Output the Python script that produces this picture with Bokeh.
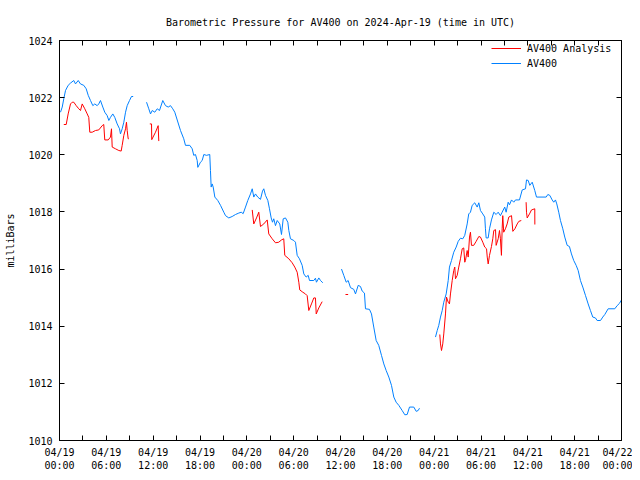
from bokeh.plotting import figure
from bokeh.models import Range1d, FixedTicker, LinearAxis, Legend
from bokeh.embed import file_html
from bokeh.resources import INLINE

nan = float("nan")

# hours since 2024-04-19 00:00 UTC
blue_hours = [0.13, 0.35, 0.55, 0.77, 1.11, 1.41, 1.83, 2.05, 2.40, 2.69, 3.11, 3.42, 3.68, 3.97,
              4.27, 4.52, 4.83, 5.03, 5.25, 5.55, 5.80, 6.11, 6.32, 6.53, 6.83, 7.08, 7.39, 7.69,
              7.81, 8.03, 8.24, 8.46, 8.67, 8.97, 9.22, 9.44, nan,
              11.15, 11.44, 11.66, 11.88, 12.21, 12.52, 12.81, 13.23, 13.58, 13.93, 14.22, 14.51,
              14.77, 15.50, 15.92, 16.14, 16.69, 17.00, 17.20, 17.42, 17.64, 17.72, 18.06, 18.28,
              18.49, 18.83, 19.25, 19.34, 19.43, 19.56, 19.69, 19.90, 20.28, 20.63, 21.05, 21.27,
              21.69, 22.12, 22.55, 22.97, 23.28, 23.53, 23.83, 24.12, 24.47, 24.69, 24.89, 25.11,
              25.40, 25.75, 26.01, 26.17, 26.39, 26.69, 26.90, 27.12, 27.29, 27.45, 27.67, 27.89,
              28.22, 28.44, 28.66, 28.95, 29.25, 29.38, 29.59, 30.02, 30.23, 30.45, 30.74, 31.09,
              31.30, 31.60, 31.86, 32.03, 32.58, 32.79, 32.92, 33.22, 33.44, 33.73, nan,
              36.13, 36.42, 36.73, 36.98, 37.28, 37.70, 37.92, 38.27, 38.56, 38.78, 39.07, 39.20,
              39.71, 39.97, 40.26, 40.57, 40.90, 41.25, 41.55, 41.85, 42.19, 42.53, 42.83, 43.13,
              43.47, 43.90, 44.24, 44.54, 44.84, 45.39, 45.70, 45.95, 46.12, nan,
              48.17, 48.39, 48.59, 48.81, 49.03, 49.23, 49.54, 49.80, 49.96, 50.22, 50.51, 50.82,
              51.08, 51.37, 51.67, 51.92, 52.23, 52.43, 52.65, 52.87, 53.20, 53.51, 53.72, 53.93,
              54.23, 54.48, 54.57, 54.66, 54.92, 55.09, 55.34, 55.64, 55.94, 56.20, 56.49, 56.71,
              57.04, 57.22, 57.48, 57.65, 57.91, 58.20, 58.42, 58.93, 59.28, 59.70, 59.83, 60.05,
              60.25, 60.56, 60.89, 61.11, 62.35, 62.56, 62.81, 63.12, 63.32, 63.54, 63.71, 63.96,
              64.18, 64.48, 64.73, 65.04, 65.33, 65.59, 65.88, 66.19, 66.45, 66.74, 67.04, 67.38,
              67.73, 68.02, 68.32, 68.66, 68.88, 69.31, 69.60, 69.86, 70.29, 71.14, 71.44, 71.74,
              72.0]
blue_mbar = [1021.49, 1021.67, 1021.96, 1022.25, 1022.43, 1022.51, 1022.60, 1022.48, 1022.60,
             1022.48, 1022.43, 1022.31, 1022.08, 1021.90, 1021.72, 1021.78, 1021.72, 1021.78,
             1021.90, 1021.67, 1021.49, 1021.37, 1021.20, 1021.31, 1021.43, 1021.31, 1021.08,
             1020.91, 1020.73, 1020.91, 1021.14, 1021.49, 1021.72, 1021.90, 1022.04, 1022.04, nan,
             1021.84, 1021.61, 1021.43, 1021.55, 1021.49, 1021.61, 1021.55, 1021.90, 1021.72,
             1021.67, 1021.72, 1021.61, 1021.49, 1020.85, 1020.56, 1020.33, 1020.33, 1020.21,
             1019.98, 1020.01, 1019.80, 1019.56, 1019.74, 1019.80, 1020.01, 1019.98, 1020.01,
             1019.45, 1018.87, 1018.98, 1018.87, 1018.52, 1018.40, 1018.23, 1017.99, 1017.87,
             1017.79, 1017.84, 1017.91, 1017.96, 1017.99, 1017.94, 1018.17, 1018.40, 1018.63,
             1018.81, 1018.52, 1018.63, 1018.52, 1018.44, 1018.73, 1018.81, 1018.58, 1018.40,
             1018.11, 1017.79, 1017.64, 1017.76, 1017.52, 1017.70, 1017.58, 1017.21, 1017.76,
             1017.79, 1017.64, 1017.35, 1017.06, 1017.00, 1016.94, 1016.48, 1016.36, 1016.13,
             1015.83, 1015.72, 1015.78, 1015.60, 1015.60, 1015.68, 1015.54, 1015.69, 1015.60,
             1015.52, nan,
             1016.00, 1015.78, 1015.54, 1015.60, 1015.35, 1015.29, 1015.13, 1015.43, 1015.39,
             1015.23, 1015.16, 1014.61, 1014.59, 1014.43, 1013.97, 1013.50, 1013.33, 1012.98,
             1012.68, 1012.45, 1012.22, 1011.93, 1011.52, 1011.34, 1011.23, 1011.05, 1010.90,
             1010.91, 1011.17, 1011.17, 1011.02, 1011.05, 1011.13, nan,
             1013.62, 1013.85, 1014.03, 1014.32, 1014.55, 1014.84, 1015.13, 1015.60, 1016.07,
             1016.30, 1016.59, 1016.77, 1016.97, 1017.08, 1017.06, 1017.18, 1017.58, 1017.93,
             1017.99, 1018.23, 1018.32, 1018.17, 1018.32, 1018.05, 1017.93, 1017.82, 1017.41,
             1017.09, 1017.09, 1017.41, 1017.72, 1017.99, 1017.91, 1017.99, 1017.87, 1017.99,
             1018.17, 1017.99, 1018.34, 1018.25, 1018.42, 1018.34, 1018.42, 1018.42, 1018.77,
             1018.81, 1019.12, 1019.10, 1018.93, 1019.04, 1018.75, 1018.52, 1018.52, 1018.61,
             1018.58, 1018.42, 1018.34, 1018.42, 1018.28, 1017.99, 1017.70, 1017.41, 1017.12,
             1016.83, 1016.79, 1016.53, 1016.30, 1016.13, 1015.95, 1015.60, 1015.37, 1015.08,
             1014.78, 1014.55, 1014.32, 1014.29, 1014.20, 1014.20, 1014.32, 1014.41, 1014.61,
             1014.61, 1014.72, 1014.80, 1014.92]

red_hours = [0.55, 0.86, 1.11, 1.41, 1.63, 1.83, 2.14, 2.47, 2.69, 2.91, 3.24, 3.55, 3.75, 3.88,
             4.19, 4.61, 5.03, 5.47, 5.67, 5.80, 6.24, 6.53, 6.66, 6.75, 7.17, 7.60, 7.90, 8.03,
             8.24, 8.46, 8.58, 8.67, 8.80, 8.88, nan,
             11.57, 11.79, 11.82, 12.30, 12.64, 12.72, nan,
             24.69, 24.89, 25.24, 25.53, 25.75, 26.17, 26.61, 26.81, 27.25, 27.67, 28.09, 28.44,
             28.73, 28.86, 29.38, 29.81, 30.14, 30.45, 30.66, 30.78, 31.17, 31.51, 31.73, 31.94,
             32.28, 32.58, 32.79, 32.89, 33.22, 33.65, nan,
             36.64, 36.98, nan,
             48.72, 48.81, 48.94, 49.10, 49.23, 49.45, 49.58, 49.80, 49.96, 50.09, 50.31, 50.51,
             50.64, 50.73, 50.95, 51.15, 51.37, 51.59, 51.79, 51.92, 52.01, 52.23, 52.36, 52.53,
             52.65, 52.78, 53.07, 53.38, 53.72, 53.93, 54.23, 54.48, 54.71, 54.80, 54.92, 55.09,
             55.34, 55.51, 55.64, 55.86, 55.94, 56.20, 56.37, 56.49, 56.62, 56.71, 56.79, 56.91,
             57.13, 57.35, 57.56, 57.91, 58.08, 58.34, 58.64, 58.85, 59.16, nan,
             59.78, 59.83, 59.92, 60.21, 60.47, 60.89, 60.90]
red_mbar = [1021.06, 1021.06, 1021.43, 1021.78, 1021.84, 1021.84, 1021.72, 1021.61, 1021.55,
            1021.78, 1021.61, 1021.43, 1021.31, 1020.79, 1020.79, 1020.85, 1020.87, 1021.02,
            1021.06, 1020.52, 1020.52, 1020.62, 1020.91, 1020.27, 1020.21, 1020.15, 1020.13,
            1020.33, 1020.68, 1020.91, 1021.14, 1020.85, 1020.56, 1020.56, nan,
            1021.08, 1021.08, 1020.53, 1020.79, 1021.02, 1020.48, nan,
            1018.07, 1017.58, 1017.79, 1017.99, 1017.49, 1017.58, 1017.72, 1017.23, 1017.06,
            1016.92, 1016.94, 1017.02, 1017.06, 1016.48, 1016.36, 1016.22, 1016.07, 1015.89,
            1015.54, 1015.27, 1015.19, 1015.13, 1015.07, 1014.55, 1014.78, 1014.99, 1014.99,
            1014.43, 1014.64, 1014.86, nan,
            1015.11, 1015.11, nan,
            1013.71, 1013.38, 1013.15, 1013.38, 1013.73, 1014.43, 1015.02, 1014.84, 1014.78,
            1015.13, 1015.60, 1015.95, 1016.07, 1015.66, 1015.78, 1016.07, 1016.36, 1016.71,
            1016.74, 1016.24, 1016.30, 1016.65, 1016.42, 1017.12, 1017.29, 1016.83, 1016.83,
            1016.97, 1017.14, 1017.12, 1016.94, 1016.77, 1016.71, 1016.42, 1016.18, 1016.48,
            1016.79, 1017.06, 1017.35, 1017.38, 1016.83, 1017.06, 1017.35, 1017.06, 1016.48,
            1017.41, 1017.87, 1017.29, 1017.41, 1017.58, 1017.82, 1017.87, 1017.32, 1017.41,
            1017.58, 1017.67, 1017.70, nan,
            1018.34, 1017.99, 1017.79, 1017.93, 1018.07, 1018.11, 1017.56]

x_major = [0, 6, 12, 18, 24, 30, 36, 42, 48, 54, 60, 66, 72]
x_minor = [3, 9, 15, 21, 27, 33, 39, 45, 51, 57, 63, 69]
x_tick_labels = ["04/19\n00:00", "04/19\n06:00", "04/19\n12:00", "04/19\n18:00",
                 "04/20\n00:00", "04/20\n06:00", "04/20\n12:00", "04/20\n18:00",
                 "04/21\n00:00", "04/21\n06:00", "04/21\n12:00", "04/21\n18:00",
                 "04/22\n00:00"]
y_ticks = [1010, 1012, 1014, 1016, 1018, 1020, 1022, 1024]

FONT = "DejaVu Sans Mono"
FS = "10px"
BLUE = "#0080ff"
RED = "#ff0000"

p = figure(frame_width=562, frame_height=400, output_backend="svg", toolbar_location=None,
           x_range=Range1d(0, 72), y_range=Range1d(1010, 1024),
           min_border_left=59, min_border_right=11, min_border_top=40, min_border_bottom=32,
           title="Barometric Pressure for AV400 on 2024-Apr-19 (time in UTC)")
p.title.text_font = FONT
p.title.text_font_size = FS
p.title.text_font_style = "normal"
p.title.text_color = "black"
p.title.align = "center"
p.title.standoff = 25
p.grid.visible = False
p.outline_line_color = "black"
p.outline_line_alpha = 1.0
p.background_fill_color = "white"

def base_axis(ax):
    ax.axis_line_color = "black"
    ax.major_tick_line_color = "black"
    ax.minor_tick_line_color = "black"
    ax.major_tick_in = 5
    ax.major_tick_out = 0
    ax.minor_tick_in = 5
    ax.minor_tick_out = 0
    ax.major_label_text_font = FONT
    ax.major_label_text_font_size = FS
    ax.major_label_text_color = "black"

xb = p.xaxis[0]
base_axis(xb)
xb.ticker = FixedTicker(ticks=x_major, minor_ticks=x_minor)
xb.major_label_overrides = dict(zip(x_major, x_tick_labels))
xb.major_label_standoff = 6

yl = p.yaxis[0]
base_axis(yl)
yl.ticker = FixedTicker(ticks=y_ticks, minor_ticks=[])
yl.major_label_standoff = 7
yl.axis_label = "milliBars"
yl.axis_label_text_font = FONT
yl.axis_label_text_font_size = FS
yl.axis_label_text_font_style = "normal"
yl.axis_label_text_color = "black"
yl.axis_label_standoff = 9

# mirrored tick marks (no labels): drawn as minor ticks only
xt = LinearAxis(ticker=FixedTicker(ticks=[], minor_ticks=x_major + x_minor))
base_axis(xt)
p.add_layout(xt, "above")
yr = LinearAxis(ticker=FixedTicker(ticks=[], minor_ticks=y_ticks))
base_axis(yr)
p.add_layout(yr, "right")

r_red = p.line(red_hours, red_mbar, line_color=RED, line_width=1)
r_blue = p.line(blue_hours, blue_mbar, line_color=BLUE, line_width=1)

legend = Legend(items=[("AV400 Analysis", [r_red]), ("AV400", [r_blue])],
                location=(430, 369), label_text_font=FONT, label_text_font_size=FS,
                label_text_color="black",
                border_line_alpha=0, background_fill_alpha=0, glyph_width=30, glyph_height=12,
                spacing=3, padding=2, margin=0, label_standoff=6, label_height=12)
p.add_layout(legend)

open("out.html", "w").write(file_html(p, INLINE))
